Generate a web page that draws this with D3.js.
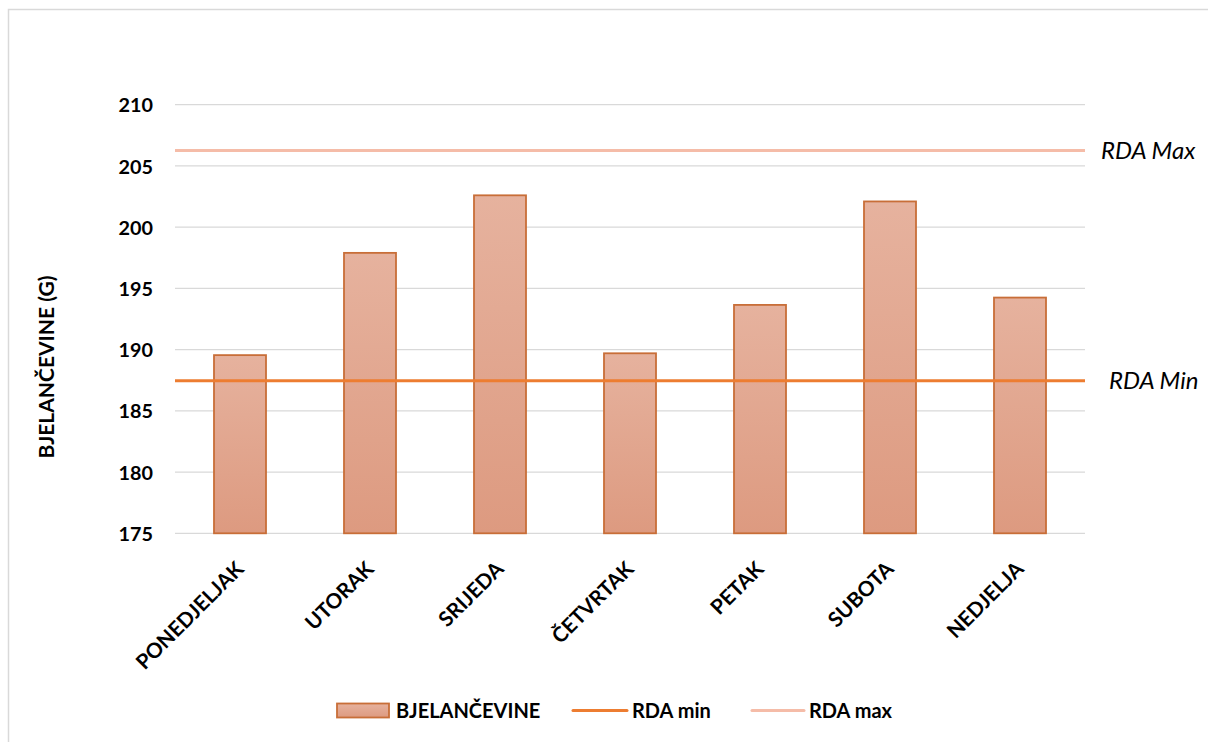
<!DOCTYPE html>
<html>
<head>
<meta charset="utf-8">
<script src="https://cdn.jsdelivr.net/npm/d3@7"></script>
<style>
  html, body { margin: 0; padding: 0; background: #fff; }
  svg { display: block; font-family: Lato, "Open Sans", sans-serif; }
</style>
</head>
<body>
<svg id="chart" width="1208" height="742"></svg>
<script>
const categories = ["PONEDJELJAK", "UTORAK", "SRIJEDA", "ČETVRTAK", "PETAK", "SUBOTA", "NEDJELJA"];
const proteinValues = [189.55, 197.9, 202.6, 189.7, 193.65, 202.1, 194.25];
const rdaMinValues = [187.45, 187.45, 187.45, 187.45, 187.45, 187.45, 187.45];
const rdaMaxValues = [206.25, 206.25, 206.25, 206.25, 206.25, 206.25, 206.25];
const yTicks = [175, 180, 185, 190, 195, 200, 205, 210];
const seriesNames = ["BJELANČEVINE", "RDA min", "RDA max"];
const yTitle = "BJELANČEVINE (G)";
const lineLabels = ["RDA Min", "RDA Max"];

const svg = d3.select("#chart");
const plot = { left: 175, right: 1085, top: 104.7, bottom: 533.3 };

// outer border
svg.append("rect").attr("x", 8.5).attr("y", 9.5).attr("width", 1220).attr("height", 760)
  .attr("fill", "none").attr("stroke", "#d9d9d9").attr("stroke-width", 1.5);

const defs = svg.append("defs");
const grad = defs.append("linearGradient").attr("id", "barGrad")
  .attr("x1", 0).attr("y1", 0).attr("x2", 0).attr("y2", 1);
grad.append("stop").attr("offset", "0%").attr("stop-color", "#e6b29e");
grad.append("stop").attr("offset", "100%").attr("stop-color", "#dd9a80");

const x = d3.scaleBand().domain(categories).range([plot.left, plot.right])
  .paddingInner(0.6).paddingOuter(0.3);
const y = d3.scaleLinear().domain([175, 210]).range([plot.bottom, plot.top]);

// gridlines
svg.append("g").selectAll("line").data(yTicks).join("line")
  .attr("x1", plot.left).attr("x2", plot.right)
  .attr("y1", d => y(d)).attr("y2", d => y(d))
  .attr("stroke", "#d9d9d9").attr("stroke-width", 1.3);

// y axis labels
const yAxis = d3.axisLeft(y).tickValues(yTicks).tickSize(0).tickPadding(0).tickFormat(d3.format("d"));
const yg = svg.append("g").attr("transform", `translate(${plot.left - 22},0)`).call(yAxis);
yg.select(".domain").remove();
yg.selectAll("text").attr("font-size", 19.8).attr("font-weight", 700).attr("fill", "#000")
  .attr("font-family", "Lato, sans-serif").attr("dy", "0.36em");

// bars
svg.append("g").selectAll("rect").data(categories).join("rect")
  .attr("x", d => x(d))
  .attr("width", x.bandwidth())
  .attr("y", (d, i) => y(proteinValues[i]))
  .attr("height", (d, i) => y(175) - y(proteinValues[i]))
  .attr("fill", "url(#barGrad)")
  .attr("stroke", "#c86e38").attr("stroke-width", 1.8);

// reference lines spanning the plot
function refPoints(vals) {
  const pts = vals.map((v, i) => [x(categories[i]) + x.bandwidth() / 2, y(v)]);
  return [[plot.left, y(vals[0])], ...pts, [plot.right, y(vals[vals.length - 1])]];
}
const line = d3.line();
svg.append("path").attr("d", line(refPoints(rdaMaxValues)))
  .attr("fill", "none").attr("stroke", "#f5bca8").attr("stroke-width", 3);
svg.append("path").attr("d", line(refPoints(rdaMinValues)))
  .attr("fill", "none").attr("stroke", "#ed7d31").attr("stroke-width", 3);

// line labels
svg.append("text").attr("x", 1109).attr("y", y(rdaMinValues[0])).attr("dy", "0.36em")
  .attr("font-size", 24).attr("font-style", "italic").attr("fill", "#000").text(lineLabels[0]);
svg.append("text").attr("x", 1101).attr("y", y(rdaMaxValues[0])).attr("dy", "0.36em")
  .attr("font-size", 24).attr("font-style", "italic").attr("fill", "#000").text(lineLabels[1]);

// x labels
svg.append("g").selectAll("text").data(categories).join("text")
  .attr("transform", d => `translate(${x(d) + x.bandwidth() / 2 + 5},${plot.bottom + 37}) rotate(-45)`)
  .attr("text-anchor", "end")
  .attr("font-size", 20.8).attr("font-weight", 700).attr("fill", "#000")
  .text(d => d);

// y title
svg.append("text")
  .attr("transform", `translate(54,367) rotate(-90)`)
  .attr("text-anchor", "middle")
  .attr("font-size", 21).attr("font-weight", 700).attr("fill", "#000")
  .text(yTitle);

// legend
const ly = 710.5;
const lg = svg.append("g");
lg.append("rect").attr("x", 337).attr("y", ly - 7).attr("width", 52).attr("height", 14)
  .attr("fill", "url(#barGrad)").attr("stroke", "#c86e38").attr("stroke-width", 1.8);
lg.append("text").attr("x", 396).attr("y", ly).attr("dy", "0.36em")
  .attr("font-size", 20).attr("font-weight", 700).text(seriesNames[0]);
lg.append("line").attr("x1", 573).attr("x2", 627).attr("y1", ly).attr("y2", ly)
  .attr("stroke", "#ed7d31").attr("stroke-width", 3).attr("stroke-linecap", "round");
lg.append("text").attr("x", 632).attr("y", ly).attr("dy", "0.36em")
  .attr("font-size", 20).attr("font-weight", 700).text(seriesNames[1]);
lg.append("line").attr("x1", 752).attr("x2", 804).attr("y1", ly).attr("y2", ly)
  .attr("stroke", "#f5bca8").attr("stroke-width", 3).attr("stroke-linecap", "round");
lg.append("text").attr("x", 809).attr("y", ly).attr("dy", "0.36em")
  .attr("font-size", 20).attr("font-weight", 700).text(seriesNames[2]);
</script>
</body>
</html>
